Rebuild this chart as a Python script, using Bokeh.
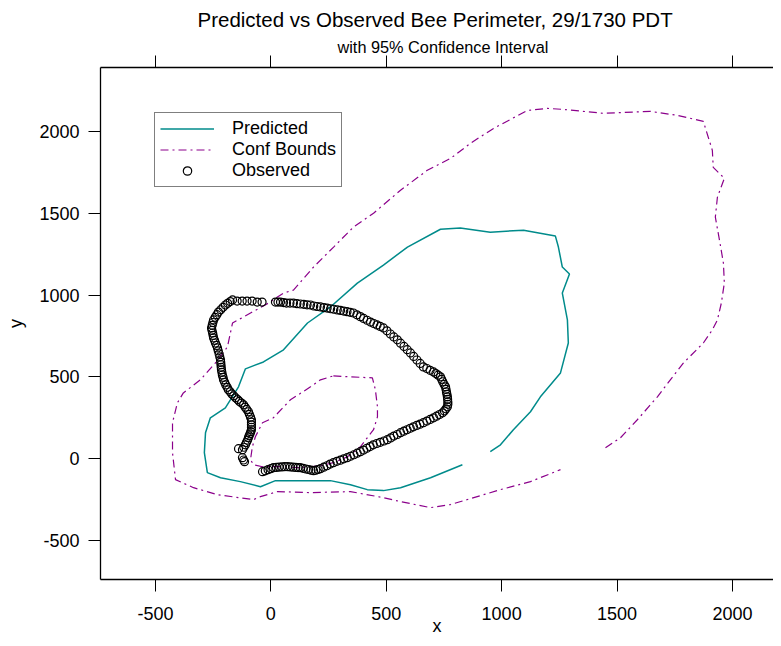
from bokeh.plotting import figure
from bokeh.models import Range1d, LinearAxis, FixedTicker, Legend, LegendItem, Title
from bokeh.embed import file_html
from bokeh.resources import INLINE

FONT = "Liberation Sans"
TEAL = "#008B8B"
PURPLE = "#8B008B"

title_text = "Predicted vs Observed Bee Perimeter, 29/1730 PDT"
subtitle_text = "with 95% Confidence Interval"
x_ticks = [-500, 0, 500, 1000, 1500, 2000]
y_ticks = [-500, 0, 500, 1000, 1500, 2000]

# Predicted perimeter (teal)
pred_x = [951, 995, 1051, 1125, 1168, 1255, 1289, 1285, 1263, 1294,
          1263, 1246, 1233, 1095, 951, 821, 735, 592, 488, 375,
          258, 159, 55, -32, -110, -140, -197, -262, -283, -288,
          -275, -218, -132, -45, 20, 115, 258, 345, 418, 488,
          562, 692, 830]
pred_y = [43, 85, 177, 287, 378, 524, 707, 848, 1012, 1128,
          1171, 1293, 1360, 1396, 1384, 1409, 1402, 1293, 1183, 1073,
          927, 829, 665, 591, 549, 439, 311, 250, 159, 37,
          -85, -116, -140, -171, -134, -134, -134, -159, -189, -195,
          -177, -116, -37]

# Outer confidence bound (purple)
outer_x = [1450, 1515, 1588, 1675, 1731, 1788, 1874, 1913, 1935, 1952,
           1965, 1961, 1944, 1926, 1935, 1965, 1917, 1913, 1874, 1761,
           1644, 1441, 1268, 1199, 1112, 965, 865, 779, 678, 562,
           445, 358, 272, 185, 98, 55, -10, -88, -166, -188,
           -240, -305, -379, -405, -426, -426, -413, -335, -231, -75,
           -45, 29, 172, 345, 488, 562, 692, 779, 995, 1125,
           1255]
outer_y = [67, 128, 238, 378, 482, 585, 707, 787, 848, 951,
           1073, 1195, 1335, 1476, 1598, 1713, 1780, 1884, 2061, 2098,
           2122, 2110, 2134, 2140, 2128, 2018, 1927, 1835, 1762, 1640,
           1500, 1415, 1293, 1171, 1030, 1012, 951, 890, 829, 683,
           585, 482, 402, 341, 220, 37, -128, -177, -220, -250,
           -232, -201, -207, -201, -238, -262, -299, -280, -189, -140,
           -67]

# Inner confidence bound (purple)
inner_x = [271, 345, 440, 453, 462, 462, 445, 388, 332, 271,
           215, 128, 42, -36, -75, -88, -80, -67, -36, 11,
           85, 172, 215, 271]
inner_y = [506, 500, 494, 421, 317, 256, 177, 73, 12, -24,
           -43, -55, -49, -49, -37, -6, 73, 134, 220, 250,
           360, 439, 482, 506]

# Observed perimeter points
obs_x = [-36, -24, -12, 0, 11, 24, 36, 48, 60, 72,
         84, 96, 108, 118, 128, 140, 152, 163, 174, 185,
         195, 205, 215, 229, 243, 257, 271, 286, 301, 316,
         331, 345, 360, 374, 388, 402, 416, 430, 444, 459,
         474, 490, 505, 519, 533, 548, 562, 576, 590, 604,
         618, 632, 646, 661, 676, 690, 705, 718, 731, 744,
         752, 759, 765, 767, 767, 766, 765, 763, 761, 759,
         757, 751, 745, 740, 735, 725, 715, 705, 690, 676,
         661, 647, 633, 619, 605, 591, 577, 562, 548, 533,
         518, 503, 488, 474, 460, 446, 432, 417, 402, 388,
         373, 358, 344, 330, 316, 302, 288, 273, 259, 244,
         230, 215, 200, 186, 172, 157, 143, 128, 113, 98,
         83, 68, 55, 42, 31, 20, -38, -59, -81, -103,
         -124, -146, -166, -176, -187, -197, -207, -217, -227, -234,
         -241, -248, -251, -254, -257, -255, -252, -250, -248, -244,
         -240, -235, -231, -228, -224, -221, -218, -217, -216, -215,
         -214, -212, -210, -207, -205, -200, -195, -189, -184, -176,
         -169, -161, -153, -144, -136, -127, -118, -111, -104, -97,
         -93, -88, -84, -84, -84, -84, -84, -87, -90, -94,
         -97, -101, -106, -110, -117, -123, -140, -123, -118, -114]
obs_y = [-79, -74, -67, -61, -55, -53, -51, -50, -49, -49,
         -50, -52, -53, -54, -55, -59, -63, -66, -70, -73,
         -70, -66, -61, -52, -43, -33, -24, -16, -9, -1,
         6, 15, 24, 34, 43, 53, 64, 74, 85, 93,
         100, 108, 116, 127, 138, 148, 159, 168, 177, 186,
         195, 203, 211, 220, 230, 240, 250, 260, 270, 280,
         292, 305, 317, 332, 347, 363, 378, 393, 408, 424,
         439, 454, 470, 485, 500, 510, 520, 530, 540, 551,
         561, 582, 603, 625, 646, 666, 686, 706, 726, 744,
         762, 781, 799, 808, 817, 826, 835, 846, 857, 868,
         879, 890, 894, 898, 902, 906, 909, 913, 916, 920,
         923, 927, 930, 933, 939, 940, 943, 945, 947, 951,
         951, 951, 954, 957, 957, 957, 957, 957, 963, 963,
         963, 963, 970, 960, 949, 939, 925, 910, 896, 880,
         864, 848, 832, 815, 799, 784, 768, 753, 738, 723,
         707, 692, 677, 659, 640, 622, 604, 589, 574, 558,
         543, 528, 512, 497, 482, 467, 451, 436, 421, 409,
         396, 384, 372, 361, 350, 340, 329, 315, 301, 287,
         271, 254, 238, 223, 207, 192, 177, 165, 152, 140,
         128, 113, 99, 85, 70, 55, 61, 6, -8, -18]

p = figure(width=773, height=638, output_backend="svg", toolbar_location=None,
           x_range=Range1d(-738, 2178), y_range=Range1d(-738, 2390),
           x_axis_label="x", y_axis_label="y",
           min_border_left=100, min_border_right=0, min_border_top=67, min_border_bottom=58,
           background_fill_color="white", border_fill_color="white")
p.outline_line_color = None
p.grid.visible = False

for ax, tk in ((p.xaxis[0], x_ticks), (p.yaxis[0], y_ticks)):
    ax.ticker = FixedTicker(ticks=tk)
    ax.major_label_overrides = {t: str(t) for t in tk}
    ax.minor_tick_line_color = None
    ax.major_tick_in = 0
    ax.major_tick_out = 12
    ax.major_tick_line_color = "black"
    ax.axis_line_color = "black"
    ax.axis_line_width = 1.3
    ax.major_label_text_font = FONT
    ax.major_label_text_font_size = "18px"
    ax.major_label_text_color = "black"
    ax.axis_label_text_font = FONT
    ax.axis_label_text_font_size = "18px"
    ax.axis_label_text_font_style = "normal"
    ax.axis_label_text_color = "black"

p.xaxis[0].major_label_standoff = 15
p.xaxis[0].axis_label_standoff = -7
p.yaxis[0].major_label_standoff = 9
p.yaxis[0].axis_label_standoff = 10

top_axis = LinearAxis(ticker=FixedTicker(ticks=x_ticks), major_tick_in=0, major_tick_out=12,
                      minor_tick_line_color=None,
                      major_label_overrides={t: "" for t in x_ticks},
                      major_label_standoff=0, axis_line_color="black", axis_line_width=1.3,
                      major_tick_line_color="black")
p.add_layout(top_axis, "above")

p.add_layout(Title(text=subtitle_text, align="left", offset=237, standoff=0,
                   text_font=FONT, text_font_size="16.3px", text_font_style="normal",
                   text_color="black"), "above")
p.add_layout(Title(text=title_text, align="left", offset=97, standoff=10,
                   text_font=FONT, text_font_size="20.5px", text_font_style="normal",
                   text_color="black"), "above")

DASH = "8 4 2 4"
r_outer = p.line(outer_x, outer_y, line_color=PURPLE, line_width=1.2, line_dash=DASH)
r_inner = p.line(inner_x, inner_y, line_color=PURPLE, line_width=1.2, line_dash=DASH)
r_pred = p.line(pred_x, pred_y, line_color=TEAL, line_width=1.5)
r_obs = p.scatter(obs_x, obs_y, marker="circle", size=8, fill_color=None,
                  line_color="black", line_width=1.2)

legend = Legend(items=[LegendItem(label="Predicted", renderers=[r_pred]),
                       LegendItem(label="Conf Bounds", renderers=[r_outer]),
                       LegendItem(label="Observed", renderers=[r_obs])],
                location=(54, 392), margin=0, padding=5, spacing=0,
                glyph_width=54, glyph_height=21, label_height=21, label_standoff=18,
                label_text_font=FONT, label_text_font_size="18px", label_text_color="black",
                border_line_color="black", border_line_width=1.2,
                background_fill_color="white", background_fill_alpha=1)
p.add_layout(legend, "center")

open("out.html", "w").write(file_html(p, INLINE))
